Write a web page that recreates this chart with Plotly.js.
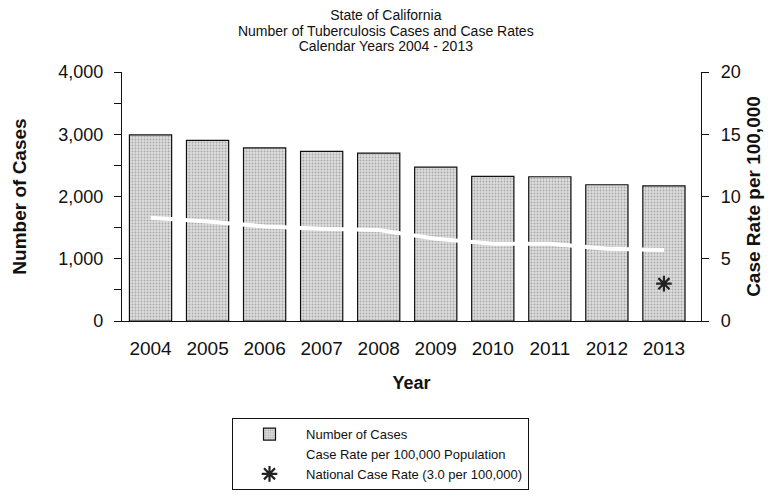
<!DOCTYPE html>
<html>
<head>
<meta charset="utf-8">
<script src="https://cdn.plot.ly/plotly-3.0.1.min.js"></script>
<style>html,body{margin:0;padding:0;background:#fff;}#chart{width:781px;height:502px;}</style>
</head>
<body>
<div id="chart"></div>
<script>
var years = ['2004','2005','2006','2007','2008','2009','2010','2011','2012','2013'];
var cases = [2989, 2900, 2781, 2725, 2696, 2471, 2323, 2317, 2189, 2170];
var rates = [8.3, 8.0, 7.6, 7.4, 7.3, 6.6, 6.2, 6.2, 5.8, 5.7];
var nationalYear = ['2013'];
var nationalRate = [3.0];
var caseTicks = [0, 1000, 2000, 3000, 4000];
var caseTickText = ['0', '1,000', '2,000', '3,000', '4,000'];
var caseMinorTicks = [500, 1500, 2500, 3500];
var rateTicks = [0, 5, 10, 15, 20];
var titleLines = ['State of California', 'Number of Tuberculosis Cases and Case Rates', 'Calendar Years 2004 - 2013'];

var FONT = 'Liberation Sans, Arial, sans-serif';

var traces = [
  {
    type: 'bar', name: 'Number of Cases', x: years, y: cases,
    marker: {color: '#d6d6d6', line: {color: '#111', width: 1.2},
             pattern: {shape: '.', fgcolor: '#a8a8a8', bgcolor: '#dedede', size: 3, solidity: 0.3}},
    hoverinfo: 'skip'
  },
  {
    type: 'scatter', mode: 'lines', name: 'Case Rate per 100,000 Population',
    x: years, y: rates, yaxis: 'y2',
    line: {color: '#ffffff', width: 4}
  },
  {
    type: 'scatter', mode: 'markers', name: 'National Case Rate (3.0 per 100,000)',
    x: nationalYear, y: nationalRate, yaxis: 'y2',
    marker: {symbol: 'asterisk-open', size: 13, color: '#222', line: {color: '#222', width: 2.2}}
  }
];

var layout = {
  width: 781, height: 502,
  margin: {l: 122, r: 80, t: 72, b: 179},
  paper_bgcolor: '#fff', plot_bgcolor: '#fff',
  font: {family: FONT, color: '#111'},
  bargap: 0.26,
  showlegend: true,
  title: {
    text: titleLines.map(function (s) { return '<span style="font-size:14px">' + s + '</span>'; }).join('<br>'),
    font: {size: 12, family: FONT, color: '#111'},
    x: 0.494, xanchor: 'center', y: 0.96, yanchor: 'top', yref: 'container'
  },
  xaxis: {
    type: 'category', showline: true, linecolor: '#111', linewidth: 1.2,
    ticks: '', tickfont: {size: 19}, showgrid: false, ticklabelstandoff: 10,
    title: {text: '<b>Year</b>', font: {size: 18}, standoff: 18}
  },
  yaxis: {
    range: [0, 4000], tickvals: caseTicks, ticktext: caseTickText,
    showline: true, linecolor: '#111', linewidth: 1.2,
    ticks: 'outside', ticklen: 7, tickcolor: '#111', ticklabelstandoff: 7,
    minor: {tickvals: caseMinorTicks, ticks: 'outside', ticklen: 7, tickcolor: '#111'},
    tickfont: {size: 18}, showgrid: false, zeroline: false,
    title: {text: '<b>Number of Cases</b>', font: {size: 19}, standoff: 26}
  },
  yaxis2: {
    overlaying: 'y', side: 'right', range: [0, 20], tickvals: rateTicks,
    showline: true, linecolor: '#111', linewidth: 1.2,
    ticks: 'outside', ticklen: 7, tickcolor: '#111', ticklabelstandoff: 8,
    tickfont: {size: 18}, showgrid: false, zeroline: false,
    title: {text: '<b>Case Rate per 100,000</b>', font: {size: 19}, standoff: 6}
  },
  legend: {
    x: 0.19, xanchor: 'left', y: -0.39, yanchor: 'top',
    bordercolor: '#111', borderwidth: 1, bgcolor: '#fff',
    font: {size: 13, family: FONT}, traceorder: 'normal',
    itemwidth: 63, tracegroupgap: 0
  }
};

Plotly.newPlot('chart', traces, layout, {displayModeBar: false, staticPlot: true});
</script>
</body>
</html>
